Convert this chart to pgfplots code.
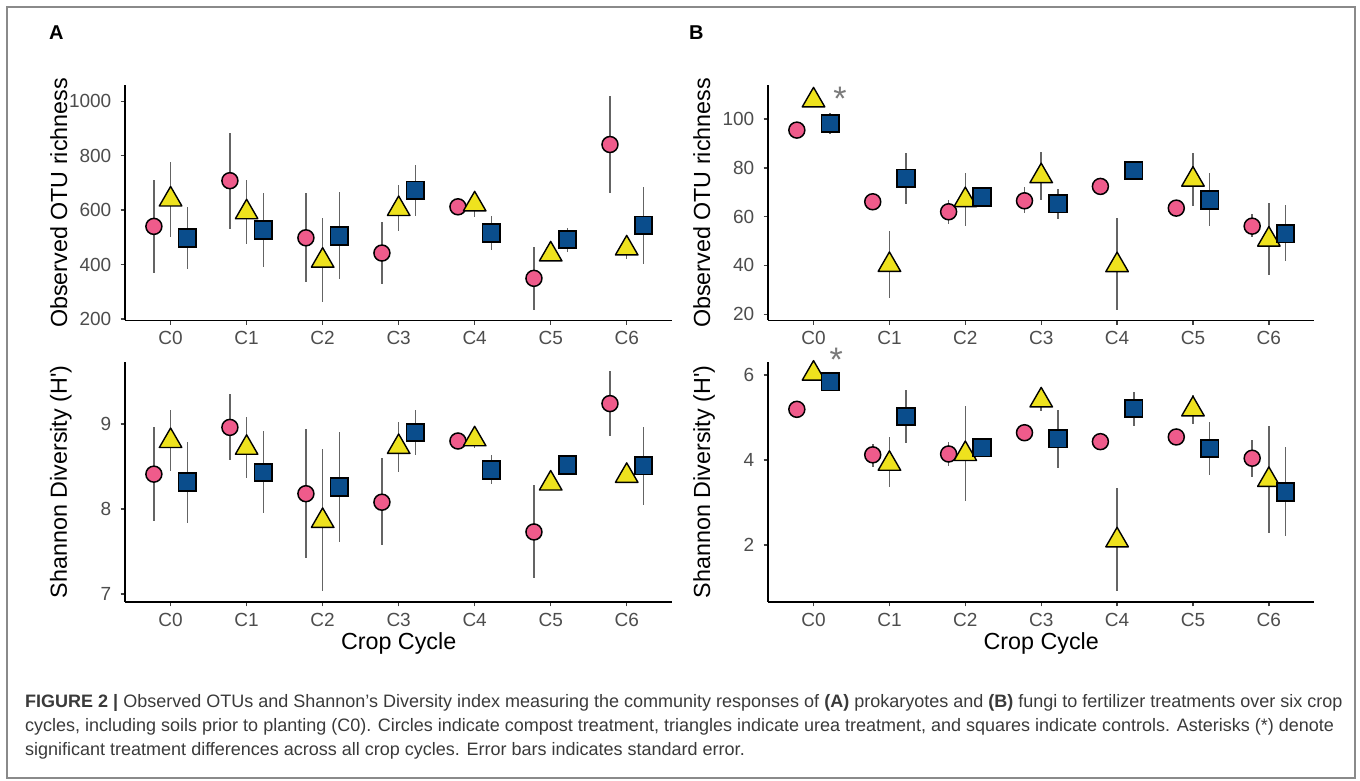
\documentclass[border=0pt]{standalone}
\usepackage{fontspec}
\setmainfont{Liberation Sans}
\usepackage{pgfplots}
\pgfplotsset{compat=1.18}
\usepackage{pgfplotstable}

\definecolor{cpink}{HTML}{EF5B8B}
\definecolor{cyel}{HTML}{EEE21E}
\definecolor{cblue}{HTML}{0A4D8C}
\definecolor{errgray}{HTML}{646464}
\definecolor{ticktext}{HTML}{4D4D4D}
\definecolor{framegray}{HTML}{8A8A8A}
\definecolor{capgray}{HTML}{3A3A3A}
\definecolor{astgray}{HTML}{7A7A7A}

\pgfplotstableread{
c cy clo chi ty tlo thi sy slo shi
0 540 367 709 639 502 776 498 383 612
1 708 531 883 592 476 709 527 392 664
2 498 337 661 414 261 569 505 345 667
3 442 328 556 604 522 691 673 578 767
4 612 598 626 621 576 666 516 453 579
5 349 231 465 437 420 455 492 445 535
6 841 664 1021 459 420 500 544 400 685
}\tabAr

\pgfplotstableread{
c cy clo chi ty tlo thi sy slo shi
0 8.41 7.86 8.96 8.80 8.45 9.16 8.32 7.84 8.79
1 8.96 8.58 9.35 8.72 8.36 9.08 8.43 7.95 8.92
2 8.18 7.42 8.94 7.86 7.04 8.71 8.26 7.61 8.91
3 8.08 7.58 8.60 8.73 8.44 9.02 8.90 8.63 9.16
4 8.80 8.75 8.85 8.82 8.72 8.90 8.46 8.29 8.64
5 7.73 7.19 8.28 8.30 8.25 8.36 8.52 8.45 8.58
6 9.24 8.86 9.62 8.39 8.33 8.45 8.51 8.05 8.97
}\tabAs

\pgfplotstableread{
c cy clo chi ty tlo thi sy slo shi
0 95.5 94 97 107.7 106 109 98.2 94 102.5
1 66.1 65 67 40.2 26.6 54.3 75.7 65.3 86.1
2 62.0 57.1 66.9 66.8 56.0 78.1 68.1 66 70
3 66.5 61.4 72.1 76.6 66.9 86.5 65.3 59.2 71.4
4 72.4 71 74 40.1 21.5 59.4 78.9 77 81
5 63.5 62 65 75.2 64.4 86.3 66.9 56.2 77.8
6 56.1 51.5 60.9 50.6 36.1 65.5 53.0 41.6 64.6
}\tabBr

\pgfplotstableread{
c cy clo chi ty tlo thi sy slo shi
0 5.19 5.1 5.28 6.03 5.95 6.1 5.84 5.75 5.92
1 4.12 3.84 4.38 3.91 3.36 4.53 5.02 4.41 5.65
2 4.14 3.86 4.43 4.14 3.04 5.28 4.29 4.2 4.38
3 4.64 4.55 4.73 5.40 5.15 5.60 4.50 3.81 5.18
4 4.43 4.35 4.5 2.11 0.92 3.34 5.21 4.80 5.59
5 4.54 4.45 4.62 5.19 4.85 5.53 4.27 3.65 4.90
6 4.04 3.61 4.47 3.53 2.29 4.80 3.25 2.20 4.31
}\tabBs

\newcommand{\errplot}[5]{%
  \addplot[only marks, mark=none, error bars/.cd, y dir=both, y explicit, error mark=none,
    error bar style={errgray, line width=1.6pt}]
    table[x expr=\thisrow{c}+#5, y=#2, y error plus expr=\thisrow{#4}-\thisrow{#2},
          y error minus expr=\thisrow{#2}-\thisrow{#3}] {#1};}
\newcommand{\panelplots}[1]{%
  \errplot{#1}{cy}{clo}{chi}{-0.22}
  \errplot{#1}{ty}{tlo}{thi}{0}
  \errplot{#1}{sy}{slo}{shi}{0.22}
  \addplot[only marks, mark=*, mark size=8pt, mark options={draw=black, fill=cpink, line width=1.5pt}]
    table[x expr=\thisrow{c}-0.22, y=cy] {#1};
  \addplot[only marks, mark=triangle*, mark size=13pt, mark options={draw=black, fill=cyel, line width=1.4pt, line join=round}]
    table[x expr=\thisrow{c}, y=ty] {#1};
  \addplot[only marks, mark=square*, mark size=8.8pt, mark options={draw=black, fill=cblue, line width=1.8pt}]
    table[x expr=\thisrow{c}+0.22, y=sy] {#1};
}

\pgfplotsset{
  panel/.style={
    scale only axis, clip=false,
    xmin=-0.6, xmax=6.6,
    xtick={0,...,6}, xticklabels={C0,C1,C2,C3,C4,C5,C6},
    axis x line*=bottom, axis y line*=left,
    axis line style={-, line width=1.3pt, black},
    tick align=outside, major tick length=4.5pt,
    every tick/.style={line width=1.3pt, color=black!75},
    minor tick num=0,
    scaled y ticks=false,
    /pgf/number format/1000 sep={},
    /pgf/number format/assume math mode=true,
    x tick label style={font=\fontsize{19}{19}\selectfont, text=ticktext, anchor=base, inner sep=0pt, yshift=-20pt},
    y tick label style={font=\fontsize{19}{19}\selectfont, text=ticktext, anchor=east, inner sep=0pt, xshift=-9pt},
    every axis y label/.style={at={(axis description cs:0,0.5)}, rotate=90, anchor=base, yshift=58pt,
      font=\fontsize{23.3}{24}\selectfont, inner sep=0pt},
    every axis x label/.style={at={(axis description cs:0.5,0)}, anchor=base, yshift=-48pt,
      font=\fontsize{23.3}{24}\selectfont, inner sep=0pt},
  }
}

\begin{document}
\begin{tikzpicture}
\path[use as bounding box] (0pt,0pt) rectangle (1360pt,781pt);
\fill[white] (0pt,0pt) rectangle (1360pt,781pt);
\draw[framegray, line width=1.5pt] (7pt,3pt) rectangle (1355pt,774pt);

\node[anchor=base west, inner sep=0pt, font=\bfseries\fontsize{20}{20}\selectfont] at (49pt,741.5pt) {A};
\node[anchor=base west, inner sep=0pt, font=\bfseries\fontsize{20}{20}\selectfont] at (689pt,741.5pt) {B};

% A top
\begin{axis}[panel, at={(125pt,460.5pt)}, anchor=south west, width=547.3pt, height=235pt,
  ymin=194, ymax=1058, ytick={200,400,...,1000}, ylabel={Observed OTU richness}]
\panelplots{\tabAr}
\end{axis}

% A bottom
\begin{axis}[panel, at={(125pt,179pt)}, anchor=south west, width=547.3pt, height=240.3pt,
  ymin=6.906, ymax=9.733, ytick={7,8,9}, ylabel={Shannon Diversity (H\textquotesingle)}, xlabel={Crop Cycle}]
\panelplots{\tabAs}
\end{axis}

% B top
\begin{axis}[panel, at={(768pt,460.5pt)}, anchor=south west, width=546.4pt, height=235pt,
  ymin=17.4, ymax=113.8, ytick={20,40,...,100}, ylabel={Observed OTU richness}]
\panelplots{\tabBr}
\node[anchor=base, inner sep=0pt, text=astgray, font=\fontsize{34}{34}\selectfont] at (axis cs:0.35,103.4) {*};
\end{axis}

% B bottom
\begin{axis}[panel, at={(768pt,179pt)}, anchor=south west, width=546.4pt, height=240.3pt,
  ymin=0.66, ymax=6.31, ytick={2,4,6}, ylabel={Shannon Diversity (H\textquotesingle)}, xlabel={Crop Cycle}]
\panelplots{\tabBs}
\node[anchor=base, inner sep=0pt, text=astgray, font=\fontsize{34}{34}\selectfont] at (axis cs:0.3,6.07) {*};
\end{axis}

% caption
\begin{scope}[every node/.style={anchor=base west, inner sep=0pt, text=capgray, font=\fontsize{18}{24}\selectfont}]
\node at (25pt,73.7pt) {\textbf{FIGURE 2 |} Observed OTUs and Shannon’s Diversity index measuring the community responses of \textbf{(A)} prokaryotes and \textbf{(B)} fungi to fertilizer treatments over six crop};
\node at (25pt,49.5pt) {cycles, including soils prior to planting (C0). Circles indicate compost treatment, triangles indicate urea treatment, and squares indicate controls. Asterisks (*) denote};
\node at (25pt,25.5pt) {significant treatment differences across all crop cycles. Error bars indicates standard error.};
\end{scope}
\end{tikzpicture}
\end{document}
